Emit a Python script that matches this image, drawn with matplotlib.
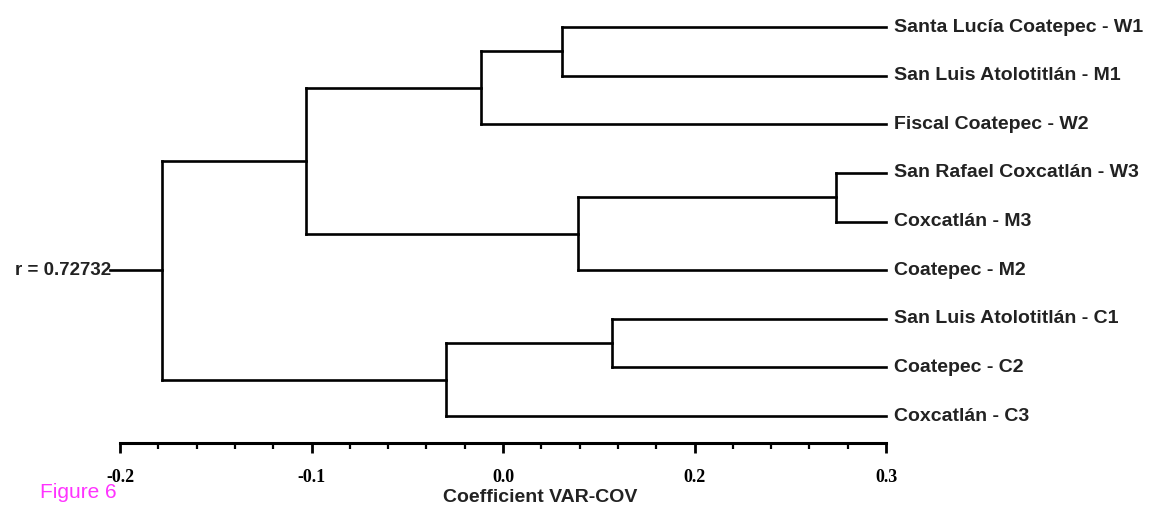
import matplotlib.pyplot as plt
import matplotlib.ticker as ticker

# Feuilles du dendrogramme (de haut en bas)
leaves = ["Santa Lucía Coatepec - W1", "San Luis Atolotitlán - M1", "Fiscal Coatepec - W2",
          "San Rafael Coxcatlán - W3", "Coxcatlán - M3", "Coatepec - M2",
          "San Luis Atolotitlán - C1", "Coatepec - C2", "Coxcatlán - C3"]
leaf_coef = 0.2

# Fusions : indices des enfants (>= 9 -> cluster créé plus haut) et coefficient
merge_left = [0, 9, 3, 11, 10, 6, 14, 13]
merge_right = [1, 2, 4, 5, 12, 7, 8, 15]
merge_coef = [0.031, -0.0115, 0.174, 0.039, -0.103, 0.057, -0.030, -0.178]

root_label = "r = 0.72732"
root_stem = -0.205

tick_pos = [-0.2, -0.1, 0.0, 0.1, 0.2]
tick_labels = ["-0.2", "-0.1", "0.0", "0.2", "0.3"]

W, H = 1152, 518
fig = plt.figure(figsize=(W / 100, H / 100), dpi=100)
ax = fig.add_axes([120 / W, (H - 443) / H, 766 / W, 433 / H])

lw = 1.9
# positions des noeuds
ypos = list(range(len(leaves)))
xpos = [leaf_coef] * len(leaves)
for l, r, c in zip(merge_left, merge_right, merge_coef):
    for child in (l, r):
        ax.plot([xpos[child], c], [ypos[child], ypos[child]], color='black', lw=lw, clip_on=False,
                solid_capstyle='projecting')
    ax.plot([c, c], [ypos[l], ypos[r]], color='black', lw=lw, clip_on=False, solid_capstyle='projecting')
    xpos.append(c)
    ypos.append((ypos[l] + ypos[r]) / 2)

# tige de la racine
ax.plot([root_stem, xpos[-1]], [ypos[-1], ypos[-1]], color='black', lw=lw, clip_on=False)
ax.text(root_stem + 0.0005, ypos[-1], root_label, ha='right', va='center', fontsize=13.5,
        fontweight='bold', family='Liberation Sans', color='#222222')

for i, name in enumerate(leaves):
    ax.text(leaf_coef + 0.004, i, name, ha='left', va='center', fontsize=14,
            fontweight='bold', family='Liberation Sans', color='#222222')

ax.set_xlim(-0.2, 0.2)
ax.set_ylim(8.555, -0.35)
for s in ['top', 'left', 'right']:
    ax.spines[s].set_visible(False)
ax.spines['bottom'].set_linewidth(2.2)
ax.set_yticks([])
ax.set_xticks(tick_pos)
ax.set_xticklabels(tick_labels, fontsize=13, fontweight='bold', family='Liberation Serif')
ax.xaxis.set_minor_locator(ticker.MultipleLocator(0.02))
ax.tick_params(axis='x', which='major', direction='out', length=7, width=2, pad=12)
ax.tick_params(axis='x', which='minor', direction='out', length=4.5, width=1.6)

fig.text(540 / W, (H - 497) / H, "Coefficient VAR-COV", ha='center', va='center', fontsize=14,
         fontweight='bold', family='Liberation Sans', color='#222222')
fig.text(40 / W, (H - 493) / H, "Figure 6", ha='left', va='center', fontsize=15,
         family='Liberation Sans', color='#ff33ff')

plt.savefig("out.png")
